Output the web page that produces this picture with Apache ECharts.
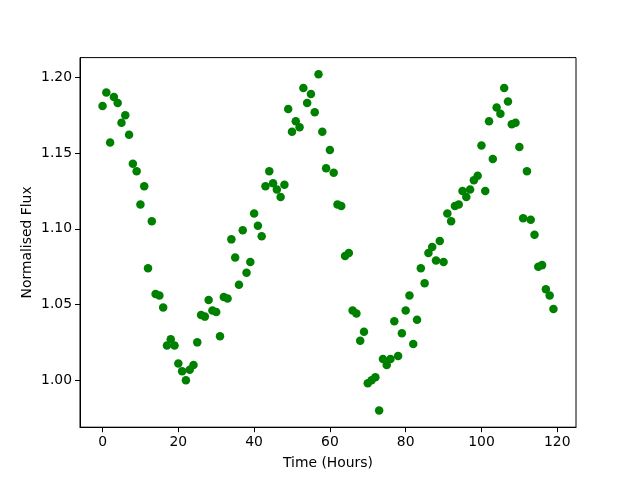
<!DOCTYPE html>
<html>
<head>
<meta charset="utf-8">
<script src="https://cdn.jsdelivr.net/npm/echarts@6/dist/echarts.min.js"></script>
<style>
  html, body { margin: 0; padding: 0; background: #fff; }
  #chart { width: 640px; height: 480px; }
</style>
</head>
<body>
<div id="chart"></div>
<script>
// hours of observation, one reading per hour
var hours = [];
for (var h = 0; h < 120; h++) hours.push(h);

// normalised flux, hour 0..119
var flux = [
  1.181, 1.190, 1.157, 1.187, 1.183, 1.170, 1.175, 1.162, 1.143, 1.138,
  1.116, 1.128, 1.074, 1.105, 1.057, 1.056, 1.048, 1.023, 1.027, 1.023,
  1.011, 1.006, 1.000, 1.007, 1.010, 1.025, 1.043, 1.042, 1.053, 1.046,
  1.045, 1.029, 1.055, 1.054, 1.093, 1.081, 1.063, 1.099, 1.071, 1.078,
  1.110, 1.102, 1.095, 1.128, 1.138, 1.130, 1.126, 1.121, 1.129, 1.179,
  1.164, 1.171, 1.167, 1.193, 1.183, 1.189, 1.177, 1.202, 1.164, 1.140,
  1.152, 1.137, 1.116, 1.115, 1.082, 1.084, 1.046, 1.044, 1.026, 1.032,
  0.998, 1.000, 1.002, 0.980, 1.014, 1.010, 1.014, 1.039, 1.016, 1.031,
  1.046, 1.056, 1.024, 1.040, 1.074, 1.064, 1.084, 1.088, 1.079, 1.092,
  1.078, 1.110, 1.105, 1.115, 1.116, 1.125, 1.121, 1.126, 1.132, 1.135,
  1.155, 1.125, 1.171, 1.146, 1.180, 1.176, 1.193, 1.184, 1.169, 1.170,
  1.154, 1.107, 1.138, 1.106, 1.096, 1.075, 1.076, 1.060, 1.056, 1.047
];

var xTicks = [0, 20, 40, 60, 80, 100, 120];
var yTicks = [1.00, 1.05, 1.10, 1.15, 1.20];

var points = hours.map(function (h, i) { return [h, flux[i]]; });

var font = 'DejaVu Sans';
var chart = echarts.init(document.getElementById('chart'), null, { renderer: 'canvas' });

chart.setOption({
  animation: false,
  backgroundColor: '#fff',
  grid: {
    left: 80, right: 64, top: 57.6, bottom: 52.8,
    show: true, borderColor: '#000', borderWidth: 1, backgroundColor: 'transparent'
  },
  xAxis: {
    type: 'value',
    min: -5.95, max: 124.95,
    name: 'Time (Hours)',
    nameLocation: 'middle',
    nameGap: 29,
    nameMoveOverlap: false,
    nameTextStyle: { fontFamily: font, fontSize: 13.9, color: '#000' },
    axisLine: { show: true, onZero: false, lineStyle: { color: '#000', width: 1 } },
    axisTick: { show: true, inside: false, length: 5, customValues: xTicks, lineStyle: { color: '#000' } },
    axisLabel: { margin: 8, customValues: xTicks, fontFamily: font, fontSize: 13.9, color: '#000' },
    splitLine: { show: false }
  },
  yAxis: {
    type: 'value',
    min: 0.969, max: 1.213,
    name: 'Normalised Flux',
    nameLocation: 'middle',
    nameGap: 46,
    nameMoveOverlap: false,
    nameTextStyle: { fontFamily: font, fontSize: 13.9, color: '#000' },
    axisLine: { show: true, onZero: false, lineStyle: { color: '#000', width: 1 } },
    axisTick: { show: true, inside: false, length: 5, customValues: yTicks, lineStyle: { color: '#000' } },
    axisLabel: {
      margin: 8, customValues: yTicks, fontFamily: font, fontSize: 13.9, color: '#000',
      formatter: function (v) { return v.toFixed(2); }
    },
    splitLine: { show: false }
  },
  series: [{
    type: 'scatter',
    data: points,
    symbol: 'circle',
    symbolSize: 8.5,
    itemStyle: { color: '#008000', opacity: 1 }
  }]
});
</script>
</body>
</html>
